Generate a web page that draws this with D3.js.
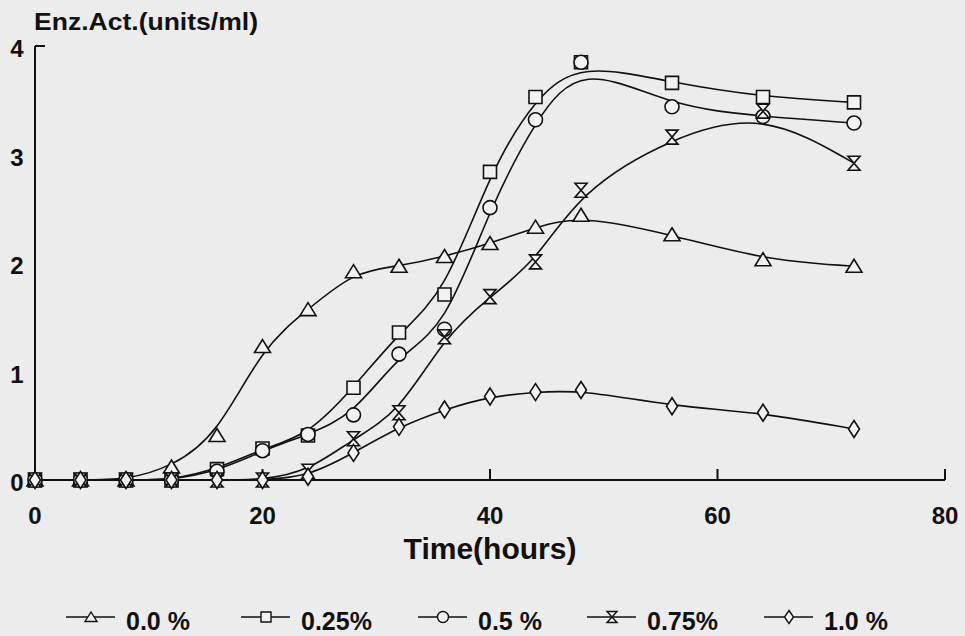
<!DOCTYPE html>
<html>
<head>
<meta charset="utf-8">
<script src="https://cdn.jsdelivr.net/npm/d3@7/dist/d3.min.js"></script>
<style>
  html, body { margin: 0; padding: 0; background: #ececec; }
  svg { display: block; }
  text { font-family: "Liberation Sans", Arial, sans-serif; fill: #111; }
</style>
</head>
<body>
<svg id="chart" width="965" height="636"></svg>
<script>
// ---- data ----
const hours = [0, 4, 8, 12, 16, 20, 24, 28, 32, 36, 40, 44, 48, 56, 64, 72];
const conc00  = [0, 0, 0, 0.12, 0.41, 1.23, 1.57, 1.92, 1.97, 2.06, 2.18, 2.33, 2.44, 2.26, 2.03, 1.97];
const conc025 = [0, 0, 0, 0, 0.10, 0.29, 0.41, 0.85, 1.36, 1.71, 2.84, 3.53, 3.85, 3.66, 3.53, 3.48];
const conc05  = [0, 0, 0, 0, 0.08, 0.27, 0.42, 0.60, 1.16, 1.39, 2.51, 3.32, 3.85, 3.44, 3.35, 3.29];
const conc075 = [0, 0, 0, 0, 0, 0, 0.08, 0.38, 0.62, 1.32, 1.69, 2.01, 2.67, 3.16, 3.40, 2.92];
const conc10  = [0, 0, 0, 0, 0, 0, 0.03, 0.25, 0.49, 0.65, 0.77, 0.81, 0.83, 0.68, 0.62, 0.47];
const seriesLabels = ["0.0 %", "0.25%", "0.5 %", "0.75%", "1.0 %"];
const seriesValues = [conc00, conc025, conc05, conc075, conc10];
const xTicks = [0, 20, 40, 60, 80];
const yTicks = [0, 1, 2, 3, 4];
const xTitle = "Time(hours)";
const yTitle = "Enz.Act.(units/ml)";

// ---- styles ----
const markerPaths = [
  "M0,-7L8,6L-8,6Z",                 // triangle
  "M-6.5,-6.5H6.5V6.5H-6.5Z",        // square
  null,                              // circle
  "M-6,-7H6L-6,7H6Z",                // hourglass
  "M0,-8.5L5.5,0L0,8.5L-5.5,0Z"      // diamond
];
const legendMarkerPaths = [
  "M0,-5L6,4.5L-6,4.5Z",
  "M-5,-5H5V5H-5Z",
  null,
  "M-5,-5.5H5L-5,5.5H5Z",
  "M0,-6.5L4.5,0L0,6.5L-4.5,0Z"
];

const svg = d3.select("#chart");
const x = d3.scaleLinear().domain([0, 80]).range([35, 945]);
const y = d3.scaleLinear().domain([0, 4]).range([480, 46]);

// axes lines
const axisG = svg.append("g").attr("stroke", "#111").attr("stroke-width", 2).attr("fill", "none");
axisG.append("line").attr("x1", x(0)).attr("x2", x(80)).attr("y1", y(0)).attr("y2", y(0));
axisG.append("line").attr("x1", x(0)).attr("x2", x(0)).attr("y1", y(0)).attr("y2", y(4));
axisG.selectAll("line.xt").data(xTicks.filter(d => d > 0)).enter().append("line")
  .attr("class", "xt").attr("x1", d => x(d)).attr("x2", d => x(d))
  .attr("y1", y(0)).attr("y2", y(0) - 11);
axisG.append("line").attr("x1", x(0)).attr("x2", x(0) + 10).attr("y1", y(4)).attr("y2", y(4));

// tick labels
svg.append("g").selectAll("text").data(xTicks).enter().append("text")
  .attr("x", d => x(d)).attr("y", 524)
  .attr("text-anchor", "middle").attr("font-size", 24).attr("font-weight", "bold")
  .text(d => d);
svg.append("g").selectAll("text").data(yTicks).enter().append("text")
  .attr("x", 17).attr("y", d => y(d) + 11)
  .attr("text-anchor", "middle").attr("font-size", 24).attr("font-weight", "bold")
  .text(d => d);

// titles
svg.append("text").attr("x", x(40)).attr("y", 559).attr("text-anchor", "middle")
  .attr("font-size", 30).attr("font-weight", "bold").text(xTitle);
svg.append("text").attr("x", 34).attr("y", 30)
  .attr("font-size", 23).attr("font-weight", "bold")
  .attr("textLength", 224).attr("lengthAdjust", "spacingAndGlyphs").text(yTitle);

// lines
const line = d3.line().x(d => x(d[0])).y(d => y(d[1])).curve(d3.curveBasis);
seriesValues.forEach((vals, i) => {
  const pts = hours.map((h, k) => [h, vals[k]]);
  svg.append("path").datum(pts).attr("d", line)
    .attr("fill", "none").attr("stroke", "#111").attr("stroke-width", 1.6);
});

// markers
seriesValues.forEach((vals, i) => {
  const pts = hours.map((h, k) => [h, vals[k]]);
  const g = svg.append("g").attr("fill", "#f2f2f2").attr("stroke", "#111").attr("stroke-width", 1.6);
  if (markerPaths[i]) {
    g.selectAll("path").data(pts).enter().append("path")
      .attr("transform", d => `translate(${x(d[0])},${y(d[1])})`)
      .attr("d", markerPaths[i]);
  } else {
    g.selectAll("circle").data(pts).enter().append("circle")
      .attr("cx", d => x(d[0])).attr("cy", d => y(d[1])).attr("r", 7);
  }
});

// legend
const legendX = [91, 266, 443, 612, 789];
const legendY = 617;
seriesLabels.forEach((lab, i) => {
  const g = svg.append("g").attr("transform", `translate(${legendX[i]},${legendY})`);
  g.append("line").attr("x1", -25).attr("x2", 24).attr("y1", 0).attr("y2", 0)
    .attr("stroke", "#111").attr("stroke-width", 1.6);
  if (legendMarkerPaths[i]) {
    g.append("path").attr("d", legendMarkerPaths[i])
      .attr("fill", "#f2f2f2").attr("stroke", "#111").attr("stroke-width", 1.4);
  } else {
    g.append("circle").attr("r", 5.5)
      .attr("fill", "#f2f2f2").attr("stroke", "#111").attr("stroke-width", 1.4);
  }
  g.append("text").attr("x", 35).attr("y", 13).attr("font-size", 25).attr("font-weight", "bold")
    .text(lab);
});
</script>
</body>
</html>
